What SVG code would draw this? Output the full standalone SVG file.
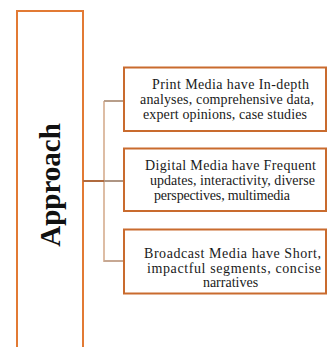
<svg xmlns="http://www.w3.org/2000/svg" width="328" height="347" viewBox="0 0 328 347">
  <style>
    .frame { fill: #ffffff; stroke: #E27A34; stroke-width: 2; }
    .box { fill: #ffffff; stroke: #C96B2E; stroke-width: 2; }
    .lbl { font-family: "Liberation Serif", "Times New Roman", serif; font-size: 14px; fill: #1a1a1a; }
    .mid { text-anchor: middle; }
    .title { font-family: "Liberation Serif", "Times New Roman", serif; font-size: 29px; font-weight: bold; fill: #111111; text-anchor: middle; }
    .link { fill: none; stroke-width: 2; }
  </style>

  <rect width="328" height="347" fill="#ffffff"/>

  <!-- Root column -->
  <g id="approach">
    <rect class="frame" x="17" y="11" width="66" height="345"/>
    <text class="title" transform="translate(60,185) rotate(-90)">Approach</text>
  </g>

  <!-- Connectors -->
  <g id="connectors">
    <path class="link" stroke="#DDBDA5" d="M104,101 V262"/>
    <path class="link" stroke="#B06A3E" d="M83,181 H104"/>
    <path class="link" stroke="#AE9583" d="M104,181 H124"/>
    <path class="link" stroke="#B89E8A" d="M104,101 H124"/>
    <path class="link" stroke="#C7A893" d="M104,261 H124"/>
  </g>

  <g id="print-media">
    <rect class="box" x="124" y="67.5" width="202" height="63.5"/>
    <text class="lbl" x="152" y="88.7" textLength="157" lengthAdjust="spacing">Print Media have In-depth</text>
    <text class="lbl" x="140" y="104.3" textLength="174" lengthAdjust="spacing">analyses, comprehensive data,</text>
    <text class="lbl" x="143" y="119.3" textLength="164" lengthAdjust="spacing">expert opinions, case studies</text>
  </g>

  <g id="digital-media">
    <rect class="box" x="124" y="148.5" width="202" height="62.5"/>
    <text class="lbl" x="145" y="169.7" textLength="171" lengthAdjust="spacing">Digital Media have Frequent</text>
    <text class="lbl" x="150" y="185.3" textLength="165" lengthAdjust="spacing">updates, interactivity, diverse</text>
    <text class="lbl" x="154" y="200.3" textLength="136" lengthAdjust="spacing">perspectives, multimedia</text>
  </g>

  <g id="broadcast-media">
    <rect class="box" x="124" y="229.5" width="202" height="64"/>
    <text class="lbl" x="144" y="258" textLength="177" lengthAdjust="spacing">Broadcast Media have Short,</text>
    <text class="lbl" x="147" y="272.5" textLength="174" lengthAdjust="spacing">impactful segments, concise</text>
    <text class="lbl mid" x="230.5" y="287">narratives</text>
  </g>
</svg>
